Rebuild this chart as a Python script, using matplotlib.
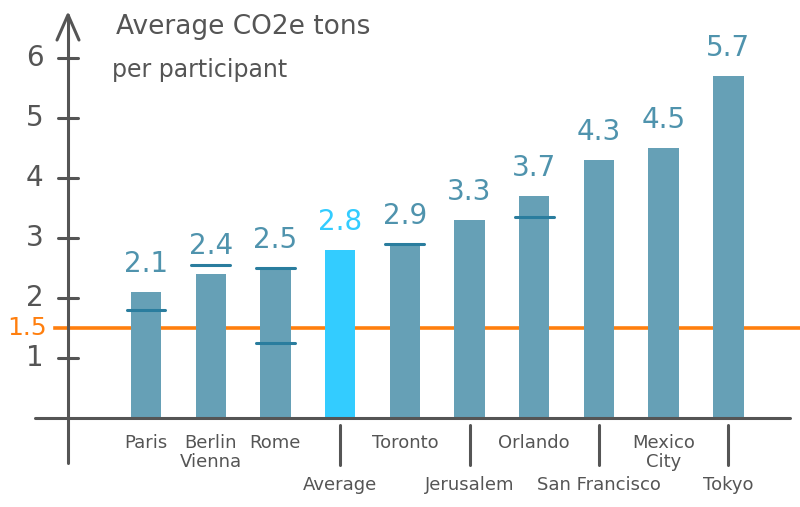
import matplotlib.pyplot as plt

cities = ["Paris", "Berlin\nVienna", "Rome", "Average", "Toronto", "Jerusalem",
          "Orlando", "San Francisco", "Mexico\nCity", "Tokyo"]
values = [2.1, 2.4, 2.5, 2.8, 2.9, 3.3, 3.7, 4.3, 4.5, 5.7]
# little horizontal marks drawn over some bars: (bar index, value)
marks = [(0, 1.8), (1, 2.55), (2, 2.5), (2, 1.25), (4, 2.9), (6, 3.35)]
low_row = ["Average", "Jerusalem", "San Francisco", "Tokyo"]
target = 1.5
yticks = [1, 2, 3, 4, 5, 6]

BAR = "#66a0b6"
HIGHLIGHT = "#33ccff"
MARK = "#2a7d9e"
GREY = "#555555"
ORANGE = "#ff7f0e"

plt.rcParams['font.family'] = ['DejaVu Sans']

fig = plt.figure(figsize=(8, 5.07), dpi=100)
ax = fig.add_axes([0, 0, 1, 1])
ax.set_xlim(-2.257, 10.108)
ax.set_ylim(-1.483, 6.967)
ax.axis("off")

x = list(range(len(cities)))
colors = [HIGHLIGHT if c == "Average" else BAR for c in cities]
ax.bar(x, values, width=0.47, color=colors, zorder=2)

for i, v, c in zip(x, values, colors):
    ax.annotate(f"{v}", (i, v), xytext=(0, 10), textcoords="offset points",
                ha="center", va="bottom", fontsize=20,
                color=HIGHLIGHT if c == HIGHLIGHT else "#4f93ad")

for i, v in marks:
    ax.plot([i - 0.3, i + 0.3], [v, v], color=MARK, lw=2.2, zorder=3,
            solid_capstyle="round")

# axes drawn by hand
yx = -1.206
ax.plot([-1.716, 9.95], [0, 0], color=GREY, lw=2.2, solid_capstyle="round")
ax.plot([yx, yx], [-0.75, 6.72], color=GREY, lw=2.2, solid_capstyle="round")
ax.plot([yx - 0.17, yx, yx + 0.17], [6.3, 6.72, 6.3], color=GREY, lw=2.2,
        solid_capstyle="round", solid_joinstyle="round")
for t in yticks:
    ax.plot([yx - 0.15, yx + 0.15], [t, t], color=GREY, lw=2.2,
            solid_capstyle="round")
    ax.text(yx - 0.38, t, str(t), ha="right", va="center", fontsize=20,
            color=GREY)

# target line sits behind the bars
ax.plot([yx - 0.2, 10.1], [target, target], color=ORANGE, lw=2.6, zorder=1)
ax.text(yx - 0.32, target, "1.5", ha="right", va="center", fontsize=18,
        color=ORANGE)

# category labels, two staggered rows
for i, c in zip(x, cities):
    if c in low_row:
        ax.plot([i, i], [-0.12, -0.78], color=GREY, lw=2.2,
                solid_capstyle="round")
        ax.text(i, -1.12, c, ha="center", va="center", fontsize=13,
                color=GREY)
    else:
        ax.text(i, -0.27, c, ha="center", va="top", fontsize=13,
                color=GREY, linespacing=1.05)

ax.text(-0.47, 6.52, "Average CO2e tons", ha="left", va="center",
        fontsize=19, color=GREY)
ax.text(-0.52, 5.8, "per participant", ha="left", va="center",
        fontsize=17, color=GREY)

fig.savefig("out.png", dpi=100)
